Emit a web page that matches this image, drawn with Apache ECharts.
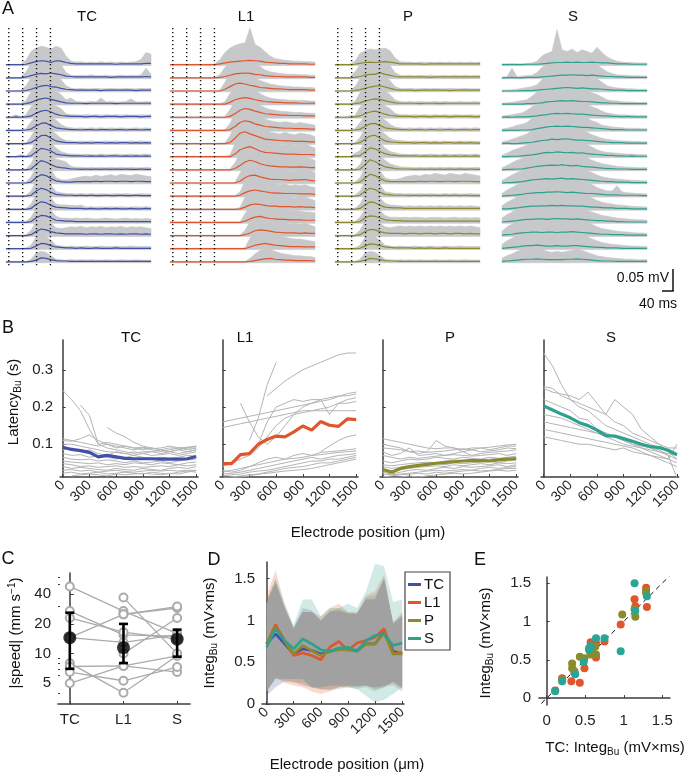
<!DOCTYPE html>
<html><head><meta charset="utf-8">
<script src="https://cdn.jsdelivr.net/npm/echarts@6/dist/echarts.min.js"></script>
<style>html,body{margin:0;padding:0;background:#fff}#c{width:684px;height:773px}</style>
</head><body><div id="c"></div>
<script>
// ---------------- Panel A data (µV above each row baseline) ----------------
const tA = [0,18,36,54,72,90,108,126,144,162,180,198,216,234,252,270,288,306,324,342,360,378,396,414,432,450,468,486,504,522]; // ms
const dotT = [10,60,110,160]; // ms, dotted reference lines
const tcMean = [
[0,0,0,0,1,4,7,9,8,5,9,8,5,3,2,2,2,2,2,2,2,2,1,2,2,2,2,2,3,3],
[0,0,0,0,2,5,8,10,9,11,9,7,4,3,2,2,2,2,2,2,2,1,2,2,2,2,2,2,3,2],
[0,0,0,0,1,4,8,11,13,10,9,6,4,3,2,2,2,2,2,1,2,2,2,2,2,2,1,2,2,2],
[0,0,0,0,1,4,9,12,14,11,8,5,3,2,2,2,1,2,2,2,2,2,1,2,2,2,2,2,2,2],
[0,0,1,0,1,3,9,14,16,12,7,4,3,2,2,2,1,2,2,1,2,2,2,1,2,2,2,1,2,2],
[0,0,0,0,1,3,10,16,17,11,6,4,3,2,2,1,2,2,1,2,2,1,2,2,1,2,2,1,2,2],
[0,0,0,0,0,2,10,18,19,12,6,4,2,2,2,1,2,1,2,2,1,2,1,2,2,1,2,1,2,1],
[0,0,0,1,0,2,11,19,17,13,6,4,3,2,2,2,1,2,1,2,1,2,2,1,2,1,2,1,2,1],
[0,0,0,0,0,2,12,21,18,12,7,5,4,2,2,1,2,1,2,1,2,1,2,1,2,1,1,2,1,1],
[0,0,0,0,0,2,12,19,17,10,5,3,2,2,3,3,3,3,4,3,4,4,3,4,4,3,4,4,3,3],
[0,0,0,0,0,2,11,18,15,9,4,3,2,2,1,2,1,2,1,1,2,1,1,2,1,1,2,1,1,1],
[0,0,0,0,0,2,11,17,15,9,5,4,3,2,2,2,1,2,1,1,2,1,2,1,1,2,1,1,2,1],
[0,0,0,0,0,2,10,16,15,10,5,4,3,3,2,2,2,2,2,2,2,2,2,2,2,2,2,2,2,2],
[0,0,0,0,0,2,9,15,13,9,6,5,4,4,4,4,3,4,4,3,4,4,3,4,3,4,4,3,4,3],
[0,0,0,0,0,1,6,12,11,7,4,3,2,2,1,2,1,1,2,1,1,1,2,1,1,1,1,1,1,1],
[0,0,0,0,0,1,4,9,8,5,3,2,2,1,1,1,1,1,1,1,1,1,1,1,1,1,1,1,1,1]];
const tcEnv = [
[1,1,1,1,10,30,38,42,40,36,42,38,20,8,6,7,5,6,5,7,5,6,5,6,5,6,7,12,28,24],
[1,1,1,1,14,32,36,38,34,36,38,30,12,6,5,6,5,7,5,5,6,5,5,6,5,6,5,7,22,8],
[1,1,1,2,12,30,34,36,38,34,30,26,12,6,5,6,5,5,6,5,5,6,5,5,6,5,5,6,5,6],
[1,1,1,1,8,28,32,36,38,33,30,22,10,14,6,5,5,6,5,14,5,6,5,5,6,12,5,5,6,5],
[1,1,6,1,6,24,32,36,34,30,26,20,8,6,6,5,6,5,6,5,6,5,6,5,6,5,5,6,5,6],
[1,1,1,1,4,20,34,38,36,32,24,14,8,6,5,6,5,6,5,6,5,6,5,6,5,5,6,5,6,5],
[1,1,1,1,2,16,36,40,38,30,22,12,7,6,5,6,5,6,5,5,6,5,6,5,5,6,5,6,5,5],
[1,1,1,5,2,14,36,42,38,32,20,12,8,6,6,5,6,5,5,6,5,5,6,5,5,6,5,5,6,5],
[1,1,1,1,2,14,38,42,40,34,24,22,18,8,6,6,5,6,5,6,5,6,5,6,5,6,5,5,6,5],
[1,1,1,1,2,14,36,40,36,30,12,8,7,9,12,14,16,14,18,15,17,19,16,20,18,17,20,18,16,14],
[1,1,1,1,2,12,34,38,34,26,10,8,6,6,5,6,5,6,5,6,5,5,6,5,6,5,5,6,5,5],
[1,1,1,1,2,12,34,36,32,26,12,10,10,9,8,10,5,6,5,6,5,6,5,6,5,5,6,5,6,5],
[1,1,1,1,2,12,32,36,34,28,14,10,10,9,10,9,10,9,8,9,10,9,8,9,10,8,9,8,9,8],
[1,1,1,1,2,12,32,36,34,28,18,16,18,20,19,21,18,20,19,21,18,20,19,21,18,20,19,20,18,16],
[1,1,1,1,2,8,26,30,28,20,8,6,5,6,5,5,6,5,5,6,5,5,6,5,5,6,5,5,5,5],
[1,1,1,1,1,6,20,24,22,14,6,5,4,5,4,5,4,5,4,4,5,4,4,5,4,4,5,4,4,4]];
const l1Mean = [
[0,0,0,0,0,0,0,0,0,0,2,4,6,7,8,9,10,9,8,6,5,4,3,3,2,2,2,2,1,1],
[0,0,0,0,0,0,0,0,0,0,1,3,6,9,10,11,10,8,7,5,4,3,3,2,2,2,2,2,1,1],
[0,0,0,0,0,0,0,0,0,0,0,4,10,16,18,16,13,11,8,7,6,5,5,4,3,3,3,3,2,2],
[0,0,0,0,0,0,0,0,0,0,0,0,4,10,13,15,13,10,8,6,5,4,4,3,3,3,2,2,2,2],
[0,0,0,0,0,0,0,0,0,0,0,0,2,8,16,20,18,14,11,8,7,6,5,5,4,4,4,3,3,3],
[0,0,0,0,0,0,0,0,0,0,0,0,2,9,18,22,20,15,12,9,8,7,6,5,5,4,4,4,3,3],
[0,0,0,0,0,0,0,0,0,0,0,0,2,12,24,27,22,18,14,10,9,8,7,6,6,5,5,5,4,4],
[0,0,0,0,0,0,0,0,0,0,0,0,0,6,16,20,23,18,13,10,9,8,7,6,6,6,5,5,5,4],
[0,0,0,0,0,0,0,0,0,0,0,0,0,3,10,18,22,19,14,11,9,8,7,7,6,6,7,6,5,5],
[0,0,0,0,0,0,0,0,0,0,0,0,0,0,4,12,17,18,14,11,9,8,8,7,6,7,7,8,6,5],
[0,0,0,0,0,0,0,0,0,0,0,0,0,0,2,8,12,14,12,10,8,7,7,6,6,6,5,5,5,4],
[0,0,0,0,0,0,0,0,0,0,0,0,0,0,1,5,10,12,11,9,7,7,6,6,6,5,6,5,5,4],
[0,0,0,0,0,0,0,0,0,0,0,0,0,0,0,3,8,12,14,11,9,8,7,7,6,6,6,5,5,5],
[0,0,0,0,0,0,0,0,0,0,0,0,0,0,0,2,6,11,13,12,10,8,7,6,6,6,5,6,5,5],
[0,0,0,0,0,0,0,0,0,0,0,0,0,0,0,0,4,8,10,12,10,8,7,6,5,5,5,4,4,4],
[0,0,0,0,0,0,0,0,0,0,0,0,0,0,0,0,1,3,5,7,8,6,5,4,4,3,3,3,3,2]];
const l1Env = [
[1,1,1,1,1,1,1,1,1,2,12,28,38,44,48,50,84,46,40,30,20,14,12,10,9,8,8,7,7,6],
[1,1,1,1,1,1,1,1,1,1,8,24,36,42,44,46,40,34,26,18,14,12,10,9,8,8,7,7,6,6],
[1,1,1,1,1,1,1,1,1,1,2,20,40,46,48,44,38,30,24,20,16,14,12,11,10,9,9,8,8,7],
[1,1,1,1,1,1,1,1,1,1,1,6,24,36,40,42,38,30,24,18,14,12,11,10,9,9,8,8,7,7],
[1,1,1,1,1,1,1,1,1,1,1,2,18,36,44,46,42,36,28,22,18,16,14,13,12,11,11,10,9,9],
[1,1,1,1,1,1,1,1,1,1,1,2,16,40,48,50,46,40,32,26,22,20,18,20,18,16,18,16,14,12],
[1,1,1,1,1,1,1,1,1,1,1,2,18,44,52,54,48,42,36,30,26,24,22,26,22,20,24,22,20,16],
[1,1,1,1,1,1,1,1,1,1,1,1,4,30,46,50,52,46,38,32,28,30,26,28,30,26,28,30,24,20],
[1,1,1,1,1,1,1,1,1,1,1,1,2,16,38,48,50,46,40,34,32,28,30,32,28,30,34,28,26,22],
[1,1,1,1,1,1,1,1,1,1,1,1,1,2,22,40,46,48,42,36,32,30,28,30,26,28,32,34,28,24],
[1,1,1,1,1,1,1,1,1,1,1,1,1,1,10,34,42,44,40,34,30,28,26,28,24,26,24,26,22,20],
[1,1,1,1,1,1,1,1,1,1,1,1,1,1,4,28,40,44,42,36,30,32,28,30,28,26,30,28,24,20],
[1,1,1,1,1,1,1,1,1,1,1,1,1,1,1,20,36,44,46,40,34,30,28,30,26,28,26,24,24,22],
[1,1,1,1,1,1,1,1,1,1,1,1,1,1,1,12,32,42,46,42,36,32,28,30,26,28,26,28,24,20],
[1,1,1,1,1,1,1,1,1,1,1,1,1,1,1,2,24,36,40,42,38,32,28,26,24,22,22,20,18,16],
[1,1,1,1,1,1,1,1,1,1,1,1,1,1,1,1,8,18,26,30,28,24,20,18,16,14,14,12,12,10]];
const pMean = [
[0,0,0,0,1,3,5,6,5,6,7,6,4,2,2,2,2,2,1,2,2,2,2,2,2,2,2,2,2,2],
[0,0,0,0,1,3,6,8,8,12,8,6,3,2,2,2,2,2,2,1,2,2,2,2,2,2,2,2,2,2],
[0,0,0,0,1,3,6,9,11,12,9,6,3,2,2,2,1,2,2,2,2,2,2,1,2,2,2,2,2,2],
[0,0,0,0,1,3,7,10,12,11,8,5,3,2,2,2,2,1,2,2,2,1,2,2,2,2,2,2,2,2],
[0,0,0,0,1,3,8,12,14,11,7,4,3,2,2,2,1,2,2,1,2,2,2,1,2,2,2,2,1,2],
[0,0,0,0,1,3,9,15,16,11,6,4,3,2,2,1,2,2,1,2,2,1,2,2,1,2,2,1,2,2],
[0,0,0,0,0,2,10,17,19,12,6,4,3,2,2,2,1,2,2,1,2,1,2,2,1,2,1,2,1,1],
[0,0,0,0,2,2,11,20,18,12,7,4,3,2,2,2,2,1,2,1,2,1,2,1,2,1,2,1,2,1],
[0,0,0,0,0,2,12,23,19,12,7,5,3,2,2,2,1,2,1,2,1,2,1,2,1,2,1,2,1,1],
[0,0,0,0,0,2,11,20,17,10,5,3,3,3,3,3,3,4,3,4,4,3,4,4,3,4,4,4,3,3],
[0,0,0,0,0,2,11,18,15,9,4,3,2,2,2,1,2,1,2,1,2,1,2,1,2,1,2,1,1,1],
[0,0,0,0,0,2,10,17,15,9,5,4,3,3,2,2,2,2,2,2,2,2,2,2,2,2,2,2,2,2],
[0,0,0,0,0,2,10,15,14,10,6,5,4,4,3,3,3,3,3,3,3,3,3,3,3,3,3,3,3,3],
[0,0,0,0,0,2,9,14,13,9,6,5,5,5,4,5,5,4,5,5,4,5,5,4,5,5,4,5,4,4],
[0,0,0,0,0,1,6,11,10,7,4,3,2,2,2,2,1,2,1,2,1,1,2,1,1,1,1,1,1,1],
[0,0,0,0,0,1,4,8,7,5,3,2,2,1,1,1,1,1,1,1,1,1,1,1,1,1,1,1,1,1]];
const pEnv = [
[1,1,1,1,8,26,32,36,34,36,38,32,16,7,6,6,5,6,5,6,5,6,5,6,5,6,5,6,5,6],
[1,1,1,1,14,30,34,36,34,38,34,28,12,6,5,6,5,6,5,6,5,5,6,5,6,5,6,5,6,5],
[1,1,1,1,10,28,32,34,36,36,32,24,10,6,5,6,5,5,6,5,6,5,5,6,5,5,6,5,5,5],
[1,1,1,1,6,26,32,36,38,34,30,22,10,6,5,6,5,6,5,5,6,5,6,5,5,6,5,5,6,5],
[1,1,1,4,4,24,32,36,36,32,26,20,9,6,6,5,6,5,6,5,6,5,6,5,6,5,5,6,5,5],
[1,1,1,1,4,18,34,38,38,32,24,14,8,6,5,6,5,6,5,6,5,6,5,6,5,5,6,5,6,5],
[1,1,1,1,2,14,36,40,38,30,22,12,8,7,6,5,6,5,6,5,6,5,6,5,5,6,5,6,5,5],
[1,1,1,1,8,14,36,42,40,32,20,12,9,6,6,5,6,5,5,6,5,5,6,5,5,6,5,5,6,5],
[1,1,1,1,2,12,38,44,40,32,22,14,10,7,6,6,5,6,5,6,5,6,5,6,5,6,5,5,6,5],
[1,1,1,1,2,12,36,40,36,28,12,8,8,10,14,16,18,16,20,18,22,20,18,22,20,18,22,20,18,16],
[1,1,1,1,2,12,34,38,34,26,10,8,6,6,5,6,5,6,5,6,5,5,6,5,6,5,5,6,5,5],
[1,1,1,1,2,12,34,36,32,26,14,10,9,8,7,8,7,8,7,8,7,8,7,8,7,8,7,8,7,6],
[1,1,1,1,2,12,32,36,34,28,16,12,12,11,12,11,12,11,10,11,12,11,10,11,12,10,11,10,11,10],
[1,1,1,1,2,12,32,36,34,28,20,18,20,22,20,22,20,22,20,22,20,22,20,22,20,22,20,22,20,18],
[1,1,1,1,2,8,26,30,28,20,8,6,5,6,5,5,6,5,5,6,5,5,6,5,5,6,5,5,5,5],
[1,1,1,1,1,6,20,24,22,14,6,5,4,5,4,5,4,5,4,4,5,4,4,5,4,4,5,4,4,4]];
const sMean = [
[0,0,0,0,0,1,1,1,2,3,4,5,5,6,5,6,5,5,6,5,4,4,3,2,2,2,1,1,1,1],
[0,0,1,0,0,1,1,1,2,3,4,5,6,6,7,6,6,5,6,5,4,3,3,2,2,1,1,1,1,1],
[0,0,0,0,1,1,1,2,3,4,5,6,7,8,7,6,7,6,5,5,4,3,2,2,2,1,1,1,1,1],
[0,0,0,0,0,1,1,2,3,5,6,7,8,7,8,7,6,6,5,4,3,3,2,2,1,1,1,1,1,1],
[0,1,0,1,1,1,2,3,5,6,8,9,8,9,8,7,7,6,5,4,3,3,2,2,1,2,1,1,1,1],
[0,0,1,0,1,1,2,4,6,8,9,10,9,10,9,8,7,7,6,5,4,3,2,2,2,1,1,1,1,1],
[0,1,0,0,1,2,3,5,7,8,10,9,10,11,9,8,8,7,6,5,4,3,2,2,2,1,1,1,1,1],
[0,0,1,1,2,3,4,6,8,10,9,11,10,9,10,8,9,7,6,5,4,3,3,2,2,1,2,1,1,1],
[0,1,1,2,2,4,6,8,9,10,11,10,12,10,9,10,8,7,6,5,4,3,3,2,2,2,1,1,1,1],
[0,1,1,2,3,5,7,8,9,10,9,10,11,9,10,9,8,7,6,5,4,3,3,2,2,2,1,1,1,1],
[0,1,2,3,4,6,7,8,8,9,9,10,9,8,9,8,7,6,6,5,4,3,3,3,2,2,2,2,1,1],
[1,1,2,3,5,6,7,7,8,8,9,8,9,8,8,7,7,6,5,5,4,3,3,2,2,2,1,1,1,1],
[1,2,3,4,6,7,7,8,8,7,8,9,8,8,7,8,7,6,5,4,4,3,3,2,2,1,1,1,1,1],
[1,2,3,5,6,7,8,8,7,8,8,7,8,8,9,8,7,6,5,4,3,3,2,2,2,1,1,1,1,1],
[1,2,3,4,6,7,7,8,7,6,6,7,6,6,7,7,6,5,4,3,3,2,2,2,1,1,1,1,1,1],
[1,2,3,4,5,6,6,7,6,5,5,5,5,6,6,7,6,5,4,3,2,2,2,1,1,1,1,1,1,1]];
const sEnv = [
[2,2,3,2,2,3,4,8,20,26,30,80,34,30,36,28,34,30,26,40,28,18,12,8,6,5,5,4,4,4],
[2,3,22,3,4,5,6,12,24,30,34,40,32,38,34,30,36,28,34,30,22,14,10,7,6,6,5,5,4,4],
[2,2,3,4,6,8,10,14,26,32,36,34,40,36,32,38,34,30,26,28,20,12,9,7,6,5,5,4,4,4],
[2,3,4,6,8,10,18,28,32,36,34,38,36,34,38,32,34,30,26,22,16,10,8,7,6,5,5,4,4,4],
[3,4,6,8,10,16,24,30,34,38,36,40,38,36,34,36,32,30,24,20,14,10,8,6,6,5,5,4,4,4],
[3,5,8,12,14,18,28,34,38,40,42,38,40,38,36,34,32,28,22,18,12,10,8,7,6,5,5,5,4,4],
[4,6,10,14,18,22,30,36,38,42,40,44,40,38,36,34,30,26,20,16,12,10,8,7,6,6,5,5,4,4],
[4,8,14,18,22,26,32,36,40,44,42,46,42,40,38,36,32,28,22,16,12,10,9,8,7,6,6,5,5,4],
[5,10,16,22,26,30,34,40,42,44,46,44,42,40,38,34,30,28,22,18,14,12,10,8,7,6,6,5,5,5],
[6,12,18,24,28,32,36,38,40,42,40,44,42,38,36,34,32,28,24,18,14,12,10,9,8,7,6,6,5,5],
[6,14,20,26,30,34,36,38,40,42,40,42,40,38,36,36,34,30,26,20,16,12,12,24,10,8,7,6,6,5],
[8,16,22,28,32,36,38,40,38,40,42,40,38,36,38,36,34,30,26,20,16,14,12,10,9,8,7,6,6,5],
[10,18,24,30,34,38,36,40,38,36,38,40,38,36,38,36,32,28,24,20,16,14,12,10,9,8,7,6,6,5],
[10,20,26,32,36,38,40,38,36,38,40,38,36,38,40,38,34,30,26,20,16,14,12,10,9,8,7,6,6,5],
[10,18,24,30,34,36,34,36,34,32,30,32,30,32,34,36,32,28,22,18,14,12,10,9,8,7,6,6,5,5],
[8,14,18,24,28,30,28,30,28,24,22,24,22,24,26,28,26,22,18,14,12,10,9,8,7,6,6,5,5,5]];

// ---------------- Panel B data (latency, s) ----------------
const bPos = [0,100,200,300,400,500,600,700,800,900,1000,1100,1200,1300,1400,1500];
const bTicks = [0,300,600,900,1200,1500];
const bTCmean = [0.092,0.086,0.083,0.078,0.066,0.070,0.066,0.062,0.061,0.061,0.061,0.060,0.060,0.060,0.061,0.067];
const bL1mean = [0.048,0.048,0.072,0.075,0.100,0.113,0.122,0.120,0.133,0.149,0.138,0.161,0.151,0.148,0.168,0.166];
const bPmean = [0.032,0.025,0.035,0.040,0.043,0.046,0.049,0.051,0.053,0.055,0.056,0.056,0.055,0.058,0.060,0.061];
const bSmean = [0.203,0.192,0.181,0.171,0.158,0.150,0.138,0.123,0.122,0.115,0.108,0.100,0.094,0.091,0.084,0.072];
const N = null;
const bTCgray = [
[0.245,0.22,0.19,0.14,0.10,0.09,0.085,0.08,0.075,0.08,0.08,0.075,0.08,0.085,0.09,0.09],
[N,N,0.205,0.178,0.10,0.105,0.10,0.095,0.09,0.085,0.09,0.085,0.08,0.085,0.08,0.085],
[N,N,N,N,N,0.145,0.13,0.12,0.105,0.095,0.09,0.085,0.09,0.09,0.085,0.09],
[0.115,0.11,0.105,0.10,0.095,0.10,0.09,0.095,0.09,0.092,0.088,0.09,0.095,0.09,0.092,0.095],
[0.11,0.108,0.115,0.125,0.11,0.10,0.095,0.09,0.085,0.09,0.085,0.08,0.085,0.09,0.09,0.095],
[0.10,0.10,0.095,0.09,0.085,0.08,0.078,0.075,0.08,0.075,0.07,0.072,0.075,0.07,0.075,0.08],
[0.085,0.09,0.08,0.085,0.075,0.07,0.08,0.075,0.07,0.075,0.08,0.085,0.08,0.075,0.08,0.085],
[0.075,0.07,0.072,0.065,0.07,0.065,0.06,0.065,0.07,0.065,0.06,0.065,0.062,0.065,0.07,0.068],
[0.065,0.06,0.058,0.06,0.055,0.058,0.055,0.05,0.055,0.05,0.052,0.055,0.05,0.055,0.058,0.06],
[0.055,0.052,0.05,0.048,0.05,0.045,0.048,0.045,0.05,0.048,0.045,0.05,0.048,0.045,0.05,0.052],
[0.048,0.045,0.04,0.042,0.038,0.04,0.042,0.038,0.04,0.038,0.04,0.042,0.04,0.045,0.042,0.045],
[0.04,0.035,0.038,0.035,0.032,0.03,0.035,0.032,0.03,0.035,0.032,0.03,0.035,0.038,0.035,0.04],
[0.03,0.032,0.028,0.03,0.025,0.028,0.03,0.027,0.025,0.028,0.03,0.028,0.03,0.028,0.03,0.03],
[0.022,0.025,0.02,0.022,0.025,0.02,0.022,0.025,0.022,0.02,0.025,0.022,0.02,0.025,0.028,0.025],
[N,0.015,0.018,0.02,0.018,0.015,0.02,0.018,0.02,0.022,0.02,0.018,0.022,0.02,0.025,0.03]];
const bL1gray = [
[N,N,N,0.11,0.17,0.26,0.32,N,N,N,N,N,N,N,N,N],
[N,N,N,N,N,0.23,0.25,0.27,0.285,0.30,0.31,0.32,0.33,0.34,0.345,0.345],
[0.16,0.165,0.17,0.175,0.18,0.185,0.19,0.195,0.20,0.205,0.21,0.215,0.22,0.228,0.236,0.24],
[0.145,0.15,0.155,0.16,0.165,0.17,0.175,0.18,0.185,0.19,0.19,0.19,0.19,0.19,0.19,0.19],
[N,N,0.21,0.16,0.12,0.10,0.12,0.15,0.18,0.20,0.21,0.22,0.18,0.21,0.22,0.225],
[N,N,N,N,0.10,0.16,0.20,0.21,0.22,0.215,0.22,0.22,0.225,0.23,0.23,0.235],
[0.04,0.05,0.06,0.07,0.09,0.12,0.15,0.17,0.18,0.185,0.19,0.195,0.20,0.21,0.21,0.215],
[N,N,N,N,N,N,N,N,N,N,N,0.08,0.095,0.11,0.12,0.125],
[0.025,0.03,0.035,0.04,0.045,0.05,0.055,0.06,0.062,0.065,0.07,0.072,0.075,0.078,0.08,0.082],
[0.02,0.022,0.025,0.03,0.035,0.04,0.045,0.05,0.055,0.06,0.065,0.06,0.065,0.07,0.072,0.075],
[0.015,0.018,0.02,0.025,0.028,0.03,0.035,0.04,0.045,0.05,0.055,0.055,0.06,0.06,0.065,0.07],
[0.01,0.012,0.015,0.018,0.02,0.025,0.03,0.035,0.038,0.04,0.045,0.05,0.05,0.055,0.06,0.065],
[0.03,0.025,0.03,0.04,0.05,0.06,0.065,0.06,0.07,0.075,0.07,0.078,0.08,0.082,0.085,0.088],
[0.005,0.01,0.012,0.015,0.02,0.022,0.025,0.028,0.03,0.032,0.035,0.04,0.045,0.05,0.055,0.06]];
const bPgray = [
[0.115,0.11,0.105,0.1,0.095,0.09,0.088,0.09,0.09,0.085,0.09,0.09,0.092,0.095,0.098,0.1],
[0.1,0.095,0.09,0.08,0.075,0.08,0.11,0.095,0.09,0.08,0.085,0.09,0.085,0.09,0.095,0.095],
[0.09,0.088,0.085,0.08,0.082,0.078,0.08,0.082,0.085,0.088,0.085,0.08,0.082,0.085,0.09,0.088],
[0.08,0.07,0.075,0.09,0.07,0.072,0.075,0.07,0.075,0.08,0.07,0.075,0.078,0.08,0.082,0.085],
[0.07,0.065,0.06,0.065,0.062,0.065,0.068,0.07,0.072,0.07,0.068,0.07,0.072,0.075,0.07,0.075],
[0.055,0.05,0.055,0.06,0.058,0.06,0.065,0.062,0.06,0.065,0.062,0.06,0.065,0.062,0.065,0.068],
[0.045,0.042,0.045,0.048,0.05,0.052,0.05,0.055,0.058,0.055,0.06,0.058,0.06,0.062,0.06,0.065],
[0.04,0.035,0.038,0.04,0.042,0.045,0.048,0.045,0.05,0.048,0.05,0.052,0.055,0.05,0.055,0.058],
[0.03,0.028,0.032,0.035,0.038,0.04,0.042,0.04,0.045,0.042,0.045,0.048,0.045,0.05,0.048,0.05],
[0.025,0.02,0.025,0.03,0.032,0.03,0.035,0.038,0.035,0.04,0.038,0.04,0.042,0.045,0.04,0.045],
[0.02,0.018,0.02,0.022,0.025,0.028,0.03,0.028,0.03,0.032,0.03,0.035,0.038,0.035,0.038,0.04],
[0.012,0.015,0.018,0.02,0.022,0.02,0.025,0.022,0.025,0.028,0.03,0.028,0.03,0.032,0.035,0.035],
[0.008,0.01,0.012,0.015,0.012,0.015,0.018,0.02,0.022,0.02,0.022,0.025,0.028,0.03,0.028,0.03]];
const bSgray = [
[0.345,0.31,0.26,0.22,0.2,0.19,0.17,0.15,0.14,0.13,0.12,0.11,0.10,0.09,0.08,0.07],
[0.255,0.25,0.23,0.22,0.21,0.2,0.19,0.18,0.16,0.15,0.13,0.12,0.11,0.10,0.09,0.09],
[0.25,0.24,0.235,0.23,0.22,0.24,0.21,0.18,0.22,0.2,0.18,0.14,0.12,0.10,0.08,0.06],
[0.2,0.19,0.18,0.17,0.16,0.15,0.14,0.13,0.12,0.11,0.1,0.095,0.09,0.085,0.07,0.01],
[0.18,0.175,0.17,0.16,0.15,0.14,0.13,0.125,0.12,0.11,0.1,0.09,0.08,0.07,0.06,0.05],
[0.16,0.155,0.15,0.145,0.14,0.135,0.13,0.12,0.11,0.1,0.095,0.09,0.085,0.08,0.075,0.07],
[0.14,0.135,0.13,0.125,0.12,0.115,0.11,0.105,0.1,0.095,0.09,0.08,0.07,0.065,0.06,0.1],
[0.12,0.115,0.11,0.105,0.1,0.1,0.095,0.09,0.085,0.09,0.08,0.075,0.07,0.06,0.05,0.04],
[0.22,0.21,0.2,0.19,0.17,0.165,0.14,0.13,0.12,0.11,0.105,0.1,0.09,0.08,0.07,0.06]];
const bYTicks = [0.1,0.2,0.3];

// ---------------- Panel C data (|speed|, mm/s) ----------------
const cCats = ['TC','L1','S'];
const cSubjects = [
[48,27,16],[27,15.5,15],[23,16.5,14],[14.5,25,29],[14.5,13,15.5],[8,4,9.5],
[7.4,7.5,6.5],[6.5,5.3,7.3],[5,7.5,9.5],[N,37,10],[N,25,30],[N,10,23]];
const cMean = [14.5,11.5,14];
const cLow = [7,8,9.3];
const cHigh = [26,20,17.5];
const cYTicks = [5,10,20,40];
const cMinorTicks = [3,4,6,7,8,9,30,50,60];

// ---------------- Panel D data (Integ, mV×ms) ----------------
const dNames = ['TC','L1','P','S'];
const dMean = {
 TC:[0.72,0.84,0.72,0.60,0.66,0.64,0.60,0.63,0.66,0.66,0.64,0.72,0.72,0.86,0.63,0.60],
 L1:[0.72,0.95,0.76,0.58,0.61,0.58,0.53,0.68,0.75,0.64,0.73,0.76,0.80,0.90,0.60,0.62],
 P:[0.72,0.92,0.75,0.60,0.70,0.64,0.58,0.63,0.65,0.65,0.63,0.72,0.72,0.85,0.60,0.60],
 S:[0.68,0.90,0.76,0.66,0.78,0.72,0.65,0.63,0.67,0.68,0.63,0.76,0.82,0.84,0.70,0.73]};
const dUpper = {
 TC:[1.25,1.45,1.15,0.92,1.15,1.12,1.0,1.1,1.12,1.08,1.08,1.25,1.25,1.5,0.98,1.05],
 L1:[1.3,1.6,1.2,0.9,1.1,1.1,1.05,1.15,1.2,1.1,1.1,1.3,1.35,1.55,0.98,1.1],
 P:[1.25,1.5,1.15,0.9,1.1,1.1,1.0,1.12,1.15,1.1,1.08,1.28,1.3,1.5,0.95,1.08],
 S:[1.2,1.5,1.2,0.95,1.25,1.25,1.05,1.15,1.15,1.2,1.15,1.35,1.68,1.65,1.22,1.25]};
const dLower = {
 TC:[0.1,0.2,0.27,0.27,0.22,0.2,0.18,0.17,0.2,0.22,0.2,0.22,0.18,0.2,0.25,0.18],
 L1:[0.15,0.32,0.25,0.22,0.2,0.15,0.12,0.15,0.2,0.2,0.22,0.22,0.2,0.22,0.22,0.15],
 P:[0.15,0.3,0.28,0.25,0.25,0.2,0.17,0.17,0.18,0.2,0.18,0.2,0.15,0.2,0.27,0.2],
 S:[0.15,0.3,0.3,0.3,0.3,0.2,0.2,0.22,0.22,0.2,0.18,0.1,0.02,0.05,0.12,0.2]};
const dYTicks = [0,0.5,1,1.5];

// ---------------- Panel E data (TC integ vs other integ) ----------------
const eL1 = [[0.11,0.10],[0.2,0.26],[0.32,0.22],[0.43,0.2],[0.49,0.39],[0.57,0.73],[0.55,0.65],[0.64,0.72],[0.64,0.53],[0.75,0.74],[0.96,0.96],[1.14,1.29],[1.15,1.2],[1.29,1.44],[1.3,1.19],[0.36,0.33]];
const eP = [[0.2,0.24],[0.33,0.45],[0.33,0.39],[0.36,0.35],[0.43,0.54],[0.49,0.52],[0.56,0.61],[0.57,0.57],[0.63,0.67],[0.64,0.57],[0.98,1.09],[1.14,1.16],[1.15,1.06],[1.29,1.40],[1.29,1.37]];
const eS = [[0.11,0.09],[0.2,0.22],[0.37,0.31],[0.48,0.47],[0.57,0.68],[0.55,0.63],[0.64,0.78],[0.75,0.78],[0.96,0.61],[1.14,1.5],[1.15,1.14],[1.3,1.33]];
const eTicks = [0,0.5,1,1.5];
const eXRange = [-0.1,1.6];
const eYRange = [-0.09,1.58];

// ---------------- styling ----------------
const FONT = 'Liberation Sans, Arial, Helvetica, sans-serif';
const COL = {TC:'#4151a8', L1:'#e2552c', P:'#8b8a2c', S:'#2fa08d'};
const GRAY = '#c7c8ca';
const AX = '#3c3c3c';
const ROW = 30; // µV between stacked traces

const grids = [], xAxes = [], yAxes = [], series = [];
function addGrid(g){ grids.push(g); return grids.length-1; }

// ---- Panel A ----
const panelsA = [
 {mean:tcMean, env:tcEnv, color:COL.TC, left:6, dots:true},
 {mean:l1Mean, env:l1Env, color:COL.L1, left:170, dots:true},
 {mean:pMean, env:pEnv, color:COL.P, left:335, dots:true},
 {mean:sMean, env:sEnv, color:COL.S, left:502, dots:false}];
panelsA.forEach((p)=>{
  const g = addGrid({left:p.left, top:20, width:145, height:248});
  xAxes.push({type:'value', gridIndex:g, min:0, max:522, show:false});
  yAxes.push({type:'value', gridIndex:g, min:-14, max:552, show:false});
  const ax = xAxes.length-1, ay = yAxes.length-1;
  const n = p.mean.length;
  series.push({type:'custom', xAxisIndex:ax, yAxisIndex:ay, z:1, silent:true, clip:false,
    data:p.env.map((row,r)=>[tA[0], (n-1-r)*ROW]),
    renderItem:(params, api)=>{
      const row = p.env[params.dataIndex];
      const off = api.value(1);
      const pts = row.map((v,i)=>api.coord([tA[i], off+v]));
      pts.push(api.coord([tA[row.length-1], off-2]));
      pts.push(api.coord([tA[0], off-2]));
      return {type:'polygon', shape:{points:pts}, style:{fill:GRAY, stroke:GRAY, lineWidth:0.6}};
    }});
  p.mean.forEach((row,r)=>{
    const off = (n-1-r)*ROW;
    series.push({type:'line', xAxisIndex:ax, yAxisIndex:ay, symbol:'none', silent:true, z:3,
      lineStyle:{width:1.2, color:p.color}, data:row.map((v,i)=>[tA[i], off+v])});
  });
  if(p.dots){
    dotT.forEach(t=>{
      series.push({type:'line', xAxisIndex:ax, yAxisIndex:ay, symbol:'none', silent:true, z:4,
        lineStyle:{width:1.4, color:'#111', type:[1.4,2.6]}, data:[[t,-8],[t,534]]});
    });
  }
});

// ---- Panel B ----
function axLine(){ return {show:true, lineStyle:{color:AX, width:1.5}}; }
const labelStyle = {fontFamily:FONT, fontSize:14, color:'#222'};
const panelsB = [
 {gray:bTCgray, mean:bTCmean, color:COL.TC, left:60, labels:true},
 {gray:bL1gray, mean:bL1mean, color:COL.L1, left:220, labels:false},
 {gray:bPgray, mean:bPmean, color:COL.P, left:380, labels:false},
 {gray:bSgray, mean:bSmean, color:COL.S, left:541, labels:false}];
panelsB.forEach(p=>{
  const g = addGrid({left:p.left, top:340, width:138, height:137});
  xAxes.push({type:'value', gridIndex:g, min:-30, max:1520, axisLine:axLine(), splitLine:{show:false},
    axisTick:{show:true, inside:true, length:3, lineStyle:{color:AX}, customValues:bTicks},
    axisLabel:Object.assign({rotate:45, margin:6, customValues:bTicks, formatter:v=>String(v)}, labelStyle)});
  yAxes.push({type:'value', gridIndex:g, min:0.012, max:0.38, axisLine:axLine(), splitLine:{show:false},
    axisTick:{show:true, inside:true, length:3, lineStyle:{color:AX}, customValues:bYTicks},
    axisLabel:Object.assign({show:p.labels, margin:7, customValues:bYTicks, formatter:v=>v.toFixed(1)}, labelStyle, {fontSize:15})});
  const ax = xAxes.length-1, ay = yAxes.length-1;
  p.gray.forEach(row=>{
    series.push({type:'line', xAxisIndex:ax, yAxisIndex:ay, symbol:'none', silent:true, z:2,
      lineStyle:{width:1, color:'#b3b4b6'}, data:row.map((v,i)=>[bPos[i], v])});
  });
  series.push({type:'line', xAxisIndex:ax, yAxisIndex:ay, symbol:'none', silent:true, z:3,
    lineStyle:{width:3.2, color:p.color}, data:p.mean.map((v,i)=>[bPos[i], v])});
});

// ---- Panel C ----
{
  const g = addGrid({left:58, top:573, width:132, height:131});
  xAxes.push({type:'value', gridIndex:g, min:-0.22, max:2.24, axisLine:axLine(), splitLine:{show:false},
    axisTick:{show:true, inside:true, length:3, lineStyle:{color:AX}, customValues:[0,1,2]},
    axisLabel:Object.assign({margin:8, customValues:[0,1,2], formatter:v=>cCats[Math.round(v)]}, labelStyle, {fontSize:15})});
  const ymin = Math.log2(3.08), ymax = Math.log2(65.7);
  yAxes.push({type:'value', gridIndex:g, position:'left', min:ymin, max:ymax, axisLine:axLine(), splitLine:{show:false},
    axisTick:{show:true, inside:true, length:4, lineStyle:{color:AX}, customValues:cYTicks.map(Math.log2)},
    axisLabel:Object.assign({margin:7, customValues:cYTicks.map(Math.log2), formatter:v=>String(Math.round(Math.pow(2,v)))}, labelStyle, {fontSize:15})});
  yAxes.push({type:'value', gridIndex:g, position:'left', min:ymin, max:ymax, axisLine:{show:false}, splitLine:{show:false},
    axisTick:{show:true, inside:true, length:2, lineStyle:{color:AX}, customValues:cMinorTicks.map(Math.log2)},
    axisLabel:{show:false}});
  const ax = xAxes.length-1, ay = yAxes.length-2;
  cSubjects.forEach(s=>{
    series.push({type:'line', xAxisIndex:ax, yAxisIndex:ay, symbol:'emptyCircle', symbolSize:8, silent:true, z:2,
      lineStyle:{width:1.3, color:'#ababab'}, itemStyle:{color:'#ababab', borderColor:'#ababab', borderWidth:1.3},
      data:s.map((v,i)=>[i, v==null?null:Math.log2(v)])});
  });
  series.push({type:'custom', xAxisIndex:ax, yAxisIndex:ay, z:5, silent:true,
    data:cMean.map((m,i)=>[i, Math.log2(cLow[i]), Math.log2(cHigh[i])]),
    renderItem:(params, api)=>{
      const x = api.value(0);
      const lo = api.coord([x, api.value(1)]), hi = api.coord([x, api.value(2)]);
      const w = 4.5, st = {stroke:'#000', lineWidth:2.6};
      return {type:'group', children:[
        {type:'line', shape:{x1:lo[0], y1:lo[1], x2:hi[0], y2:hi[1]}, style:st},
        {type:'line', shape:{x1:lo[0]-w, y1:lo[1], x2:lo[0]+w, y2:lo[1]}, style:st},
        {type:'line', shape:{x1:hi[0]-w, y1:hi[1], x2:hi[0]+w, y2:hi[1]}, style:st}]};
    }});
  series.push({type:'scatter', xAxisIndex:ax, yAxisIndex:ay, symbolSize:13, z:6, silent:true,
    itemStyle:{color:'#000'}, data:cMean.map((m,i)=>[i, Math.log2(m)])});
}

// ---- Panel D ----
{
  const g = addGrid({left:262, top:562, width:142, height:142});
  xAxes.push({type:'value', gridIndex:g, min:-50, max:1520, axisLine:axLine(), splitLine:{show:false},
    axisTick:{show:true, inside:true, length:3, lineStyle:{color:AX}, customValues:bTicks},
    axisLabel:Object.assign({rotate:45, margin:6, customValues:bTicks, formatter:v=>String(v)}, labelStyle)});
  yAxes.push({type:'value', gridIndex:g, min:0, max:1.7, axisLine:axLine(), splitLine:{show:false},
    axisTick:{show:true, inside:true, length:3, lineStyle:{color:AX}, customValues:dYTicks},
    axisLabel:Object.assign({margin:7, customValues:dYTicks, formatter:v=>String(v)}, labelStyle, {fontSize:15})});
  const ax = xAxes.length-1, ay = yAxes.length-1;
  const coreLo = bPos.map((x,i)=>Math.max(...dNames.map(k=>dLower[k][i])));
  const coreHi = bPos.map((x,i)=>Math.min(...dNames.map(k=>dUpper[k][i])));
  const bands = dNames.map(k=>({lo:dLower[k], hi:dUpper[k], fill:COL[k], op:0.22}));
  bands.push({lo:coreLo, hi:coreHi, fill:'#a1a1a1', op:1});
  series.push({type:'custom', xAxisIndex:ax, yAxisIndex:ay, z:1, silent:true,
    data:bands.map((b,i)=>[bPos[0], i]),
    renderItem:(params, api)=>{
      const b = bands[params.dataIndex];
      const pts = b.hi.map((v,i)=>api.coord([bPos[i], v]));
      for(let i=b.lo.length-1;i>=0;i--) pts.push(api.coord([bPos[i], b.lo[i]]));
      return {type:'polygon', shape:{points:pts}, style:{fill:b.fill, opacity:b.op}};
    }});
  dNames.forEach(k=>{
    series.push({name:k, type:'line', xAxisIndex:ax, yAxisIndex:ay, symbol:'none', z:3,
      color:COL[k], lineStyle:{width:2.6, color:COL[k]}, data:dMean[k].map((v,i)=>[bPos[i], v])});
  });
}

// ---- Panel E ----
{
  const g = addGrid({left:539, top:577, width:131, height:128});
  xAxes.push({type:'value', gridIndex:g, min:eXRange[0], max:eXRange[1], axisLine:axLine(), splitLine:{show:false},
    axisTick:{show:true, inside:true, length:3, lineStyle:{color:AX}, customValues:eTicks},
    axisLabel:Object.assign({margin:8, customValues:eTicks, formatter:v=>String(v)}, labelStyle, {fontSize:15})});
  yAxes.push({type:'value', gridIndex:g, min:eYRange[0], max:eYRange[1], axisLine:axLine(), splitLine:{show:false},
    axisTick:{show:true, inside:true, length:3, lineStyle:{color:AX}, customValues:eTicks},
    axisLabel:Object.assign({margin:8, customValues:eTicks, formatter:v=>String(v)}, labelStyle, {fontSize:15})});
  const ax = xAxes.length-1, ay = yAxes.length-1;
  series.push({type:'line', xAxisIndex:ax, yAxisIndex:ay, symbol:'none', silent:true, z:1,
    lineStyle:{width:1, color:'#111', type:[5,4]}, data:[[eYRange[0]+0.02,eYRange[0]+0.02],[eXRange[1],eXRange[1]]]});
  [[eL1,COL.L1],[eP,COL.P],[eS,'#27a696']].forEach(([d,c])=>{
    series.push({type:'scatter', xAxisIndex:ax, yAxisIndex:ay, symbolSize:8, z:3, silent:true,
      itemStyle:{color:c, opacity:1}, data:d});
  });
}

// ---- text / annotations ----
function T(text, x, y, size, align){
  return {type:'text', x:x, y:y, z:100, silent:true,
    style:{text:text, fontFamily:FONT, fontSize:size, fill:'#111', align:align||'center', verticalAlign:'middle'}};
}
const subRich = {a:{fontFamily:FONT, fontSize:15, fill:'#111'}, s:{fontFamily:FONT, fontSize:10, fill:'#111', verticalAlign:'bottom', padding:[9,0,0,0]},
  p:{fontFamily:FONT, fontSize:10, fill:'#111', verticalAlign:'top', padding:[0,0,8,0]}};
function RT(text, x, y, rot, size){
  return {type:'text', x:x, y:y, rotation:rot, z:100, silent:true,
    style:{text:text, fontFamily:FONT, fontSize:size||15, fill:'#111', align:'center', verticalAlign:'middle', rich:subRich}};
}
const graphics = [
  T('A',8,9,18), T('B',8,328,18), T('C',8,559,18), T('D',214,560,18), T('E',480,560,18),
  T('TC',87,17,15), T('L1',246,17,15), T('P',408,17,15), T('S',573,17,15),
  T('TC',131,338,15), T('L1',245,338,15), T('P',450,338,15), T('S',611,338,15),
  T('0.05 mV',669,278,14,'right'),
  T('40 ms',658,304,14),
  {type:'line', z:100, shape:{x1:673,y1:269,x2:673,y2:291}, style:{stroke:'#000', lineWidth:1.4}},
  {type:'line', z:100, shape:{x1:662,y1:291,x2:673.7,y2:291}, style:{stroke:'#000', lineWidth:1.4}},
  T('Electrode position (μm)',368,533,15),
  T('Electrode position (μm)',347,765,15),
  RT('{a|Latency}{s|Bu}{a| (s)}',14,402,Math.PI/2),
  RT('{a||speed| (mm s}{p|−1}{a|)}',16,633,Math.PI/2),
  RT('{a|Integ}{s|Bu}{a| (mV×ms)}',210,633,Math.PI/2),
  RT('{a|Integ}{s|Bu}{a| (mV×ms)}',486,643,Math.PI/2),
  RT('{a|TC: Integ}{s|Bu}{a| (mV×ms)}',615,748,0)
];

const chart = echarts.init(document.getElementById('c'), null, {renderer:'canvas'});
chart.setOption({
  animation:false,
  backgroundColor:'#fff',
  textStyle:{fontFamily:FONT},
  grid:grids, xAxis:xAxes, yAxis:yAxes, series:series,
  legend:{data:dNames, orient:'vertical', left:405, top:572, icon:'rect', itemWidth:13, itemHeight:3,
    itemGap:3, padding:[5,6,4,3], borderColor:'#444', borderWidth:1.2, backgroundColor:'#fff',
    selectedMode:false, textStyle:{fontFamily:FONT, fontSize:15, color:'#111', padding:[0,0,0,-2]}},
  graphic:graphics
});
</script></body></html>
